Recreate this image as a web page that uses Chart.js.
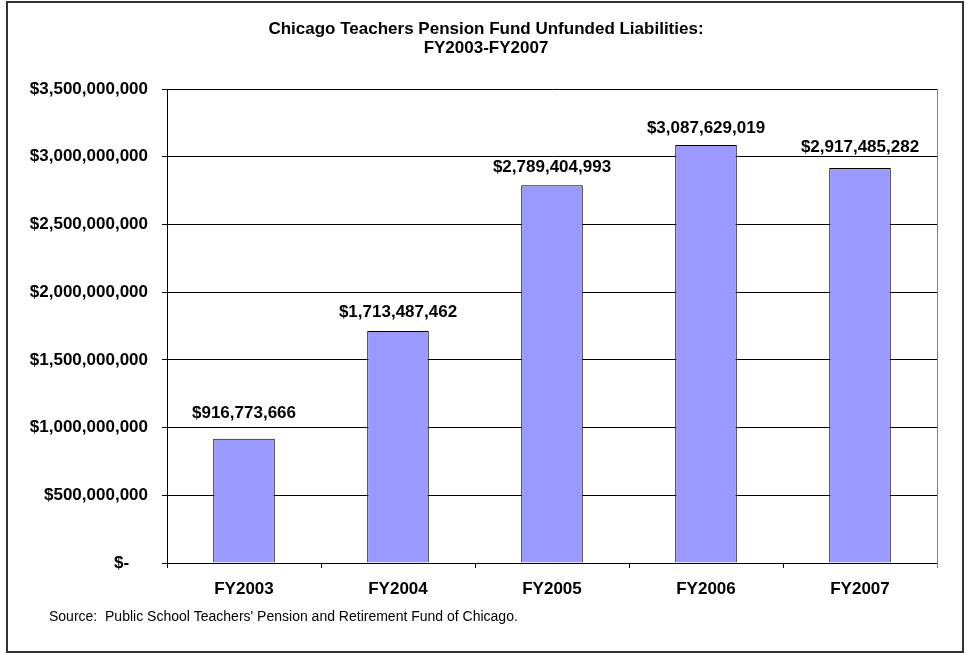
<!DOCTYPE html>
<html>
<head>
<meta charset="utf-8">
<script src="https://cdn.jsdelivr.net/npm/chart.js@4"></script>
<style>
  body { margin: 0; background: #fff; }
</style>
</head>
<body>
<canvas id="chartLiabilities" width="966" height="653"></canvas>
<script>
// data
const fiscalYears = ['FY2003', 'FY2004', 'FY2005', 'FY2006', 'FY2007'];
const unfundedLiabilities = [916773666, 1713487462, 2789404993, 3087629019, 2917485282];
const yTickValues = [0, 500000000, 1000000000, 1500000000, 2000000000, 2500000000, 3000000000, 3500000000];
const titleLines = ['Chicago Teachers Pension Fund Unfunded Liabilities:', 'FY2003-FY2007'];
const sourceNote = "Source:  Public School Teachers' Pension and Retirement Fund of Chicago.";

const FONT = 'Arial, "Liberation Sans", sans-serif';
// gap between bar top and label baseline (labels sit a bit unevenly in the original)
const labelLift = [21, 14, 13, 12, 16];

const money = v => v === 0 ? '$-\u00a0\u00a0\u00a0\u00a0' : '$' + v.toLocaleString('en-US');

// frame, source line, right edge of plot and value labels
const extras = {
  id: 'extras',
  afterLayout(chart) {
    // let the long y labels spill left of the padded box (labels get clipped to the scale box)
    chart.scales.y.left = 15;
  },
  afterDatasetsDraw(chart) {
    const ctx = chart.ctx;
    const a = chart.chartArea;
    ctx.save();
    // gray right edge of the plot area
    ctx.strokeStyle = '#808080';
    ctx.lineWidth = 1;
    ctx.beginPath();
    ctx.moveTo(a.right + 0.5, a.top);
    ctx.lineTo(a.right + 0.5, a.bottom + 5);
    ctx.stroke();

    // value labels above bars
    ctx.fillStyle = '#000';
    ctx.font = 'bold 17px ' + FONT;
    ctx.textAlign = 'center';
    ctx.textBaseline = 'alphabetic';
    chart.getDatasetMeta(0).data.forEach((bar, i) => {
      ctx.fillText(money(unfundedLiabilities[i]), bar.x, bar.y - labelLift[i]);
    });
    ctx.restore();
  },
  afterDraw(chart) {
    const ctx = chart.ctx;
    ctx.save();
    ctx.fillStyle = '#000';
    ctx.font = '14px ' + FONT;
    ctx.textAlign = 'left';
    ctx.textBaseline = 'middle';
    ctx.fillText(sourceNote, 49, 617);
    // outer frame
    ctx.strokeStyle = '#333';
    ctx.lineWidth = 2;
    ctx.strokeRect(7, 2, 956, 650);
    ctx.restore();
  }
};

const ctx = document.getElementById('chartLiabilities').getContext('2d');

const chartConfig = {
  type: 'bar',
  data: {
    labels: fiscalYears,
    datasets: [{
      data: unfundedLiabilities,
      backgroundColor: '#9999FF',
      borderColor: '#000',
      borderWidth: 1,
      barPercentage: 0.4,
      categoryPercentage: 1
    }]
  },
  options: {
    responsive: false,
    animation: false,
    layout: { padding: { left: 35, right: 29, top: 0, bottom: 0 } },
    plugins: {
      legend: { display: false },
      tooltip: { enabled: false },
      title: {
        display: true,
        text: titleLines,
        color: '#000',
        font: { family: FONT, size: 17, weight: 'bold', lineHeight: 1.12 },
        padding: { top: 20, bottom: 31 }
      }
    },
    scales: {
      x: {
        offset: true,
        grid: { offset: true, drawOnChartArea: false, drawTicks: true, tickLength: 5, color: '#000' },
        border: { color: '#000', width: 1 },
        ticks: { color: '#000', padding: 11, font: { family: FONT, size: 17, weight: 'bold' } },
        afterFit: s => { s.height = 90; }
      },
      y: {
        min: 0,
        max: 3500000000,
        afterBuildTicks: s => { s.ticks = yTickValues.map(v => ({ value: v })); },
        grid: { color: '#000', tickLength: 5 },
        border: { color: '#000', width: 1 },
        ticks: {
          color: '#000',
          padding: 14,
          font: { family: FONT, size: 17, weight: 'bold' },
          callback: v => money(v)
        },
        afterFit: s => { s.width = 132; }
      }
    }
  },
  plugins: [extras]
};

new Chart(ctx, chartConfig);
</script>
</body>
</html>
